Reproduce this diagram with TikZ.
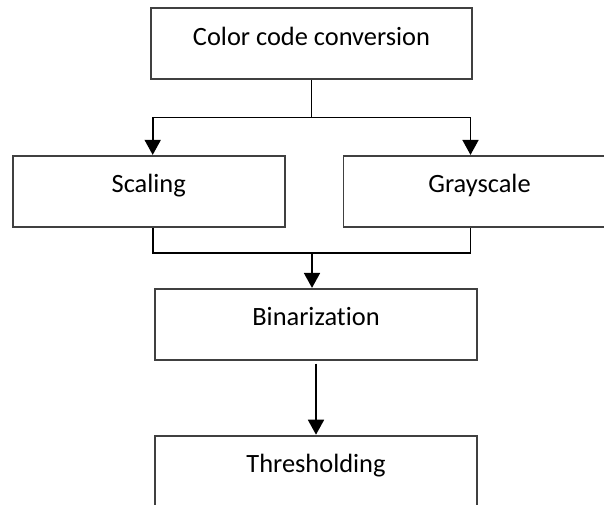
\documentclass[tikz,border=0pt]{standalone}
\usepackage{fontspec}
\setmainfont{Carlito}[Ligatures=NoCommon]
\usetikzlibrary{arrows.meta,positioning,calc}

\begin{document}
\begin{tikzpicture}[
    font=\fontsize{13.2}{15}\selectfont,
    block/.style={rectangle, draw=black!75, line width=0.9pt, minimum height=35.5pt, text height=9pt, text depth=7.5pt, align=center},
    arrow/.style={-{Triangle[length=7.5pt,width=8pt]}, line width=0.9pt}
]
    \clip (0,0) rectangle (302pt,-252pt);
    \node[block, minimum width=160.5pt] (conv) at (155.75pt,-21.75pt) {Color code conversion};
    \node[block, minimum width=136pt, below=37.5pt of conv, xshift=-81.4pt] (scale) {Scaling};
    \node[block, minimum width=136pt, right=28.5pt of scale] (gray) {Grayscale};
    \node[block, minimum width=161pt, below=104pt of conv, xshift=2.25pt] (bin) {Binarization};
    \node[block, minimum width=161pt, below=37pt of bin] (thr) {Thresholding};

    % split after the first step
    \coordinate (fork) at ($(conv.south)!0.5!(conv.south|-scale.north)$);
    \draw[line width=0.9pt] (conv.south) -- (fork);
    \draw[arrow] (fork) -| ([xshift=2pt]scale.north);
    \draw[arrow] (fork) -| ([xshift=-4.5pt]gray.north);

    % join before binarization
    \coordinate (merge) at ([xshift=-2pt,yshift=17.5pt]bin.north);
    \draw[line width=0.9pt] ([xshift=2pt]scale.south) |- (merge) -| ([xshift=-4.5pt]gray.south);
    \draw[arrow] (merge) -- (merge|-bin.north);
    \draw[arrow] ([yshift=-1.5pt]bin.south) -- (thr.north);
\end{tikzpicture}
\end{document}
